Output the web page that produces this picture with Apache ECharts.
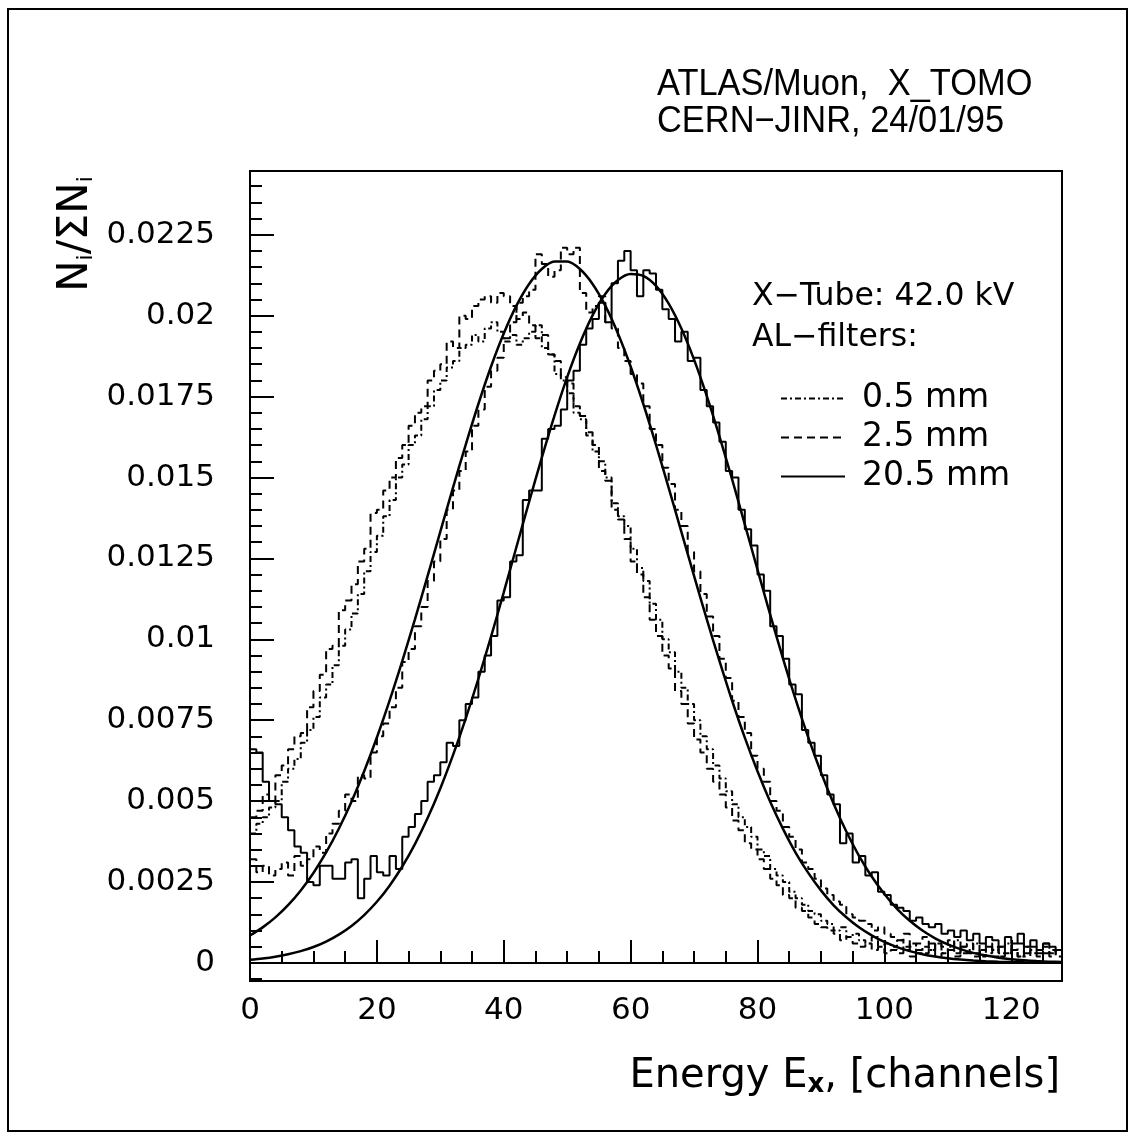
<!DOCTYPE html>
<html><head><meta charset="utf-8">
<script src="https://cdn.jsdelivr.net/npm/echarts@6/dist/echarts.min.js"></script>
<style>html,body{margin:0;padding:0;background:#fff}#c{width:1135px;height:1140px}</style>
</head><body><div id="c"></div>
<script>
// ---- data ----
// histogram contents per channel 0..127
const filter05 = [ // dash-dot, 0.5 mm
0.0040,0.0043,0.0045,0.0048,0.0050,0.0056,0.0060,0.0063,0.0068,0.0072,
0.0076,0.0082,0.0086,0.0092,0.0098,0.0103,0.0108,0.0114,0.0121,0.0127,
0.0132,0.0138,0.0143,0.0150,0.0154,0.0160,0.0163,0.0168,0.0172,0.0177,
0.0180,0.0184,0.0186,0.0190,0.0191,0.0194,0.0192,0.0196,0.0198,0.0195,
0.0192,0.0194,0.0191,0.0193,0.0195,0.0197,0.0190,0.0188,0.0182,0.0180,
0.0176,0.0170,0.0168,0.0163,0.0158,0.0155,0.0150,0.0142,0.0138,0.0135,
0.0128,0.0122,0.0118,0.0111,0.0106,0.0100,0.0096,0.0090,0.0085,0.0080,
0.0075,0.0070,0.0066,0.0061,0.0057,0.0053,0.0049,0.0045,0.0042,0.0039,
0.0035,0.0033,0.0029,0.0027,0.0025,0.0022,0.0020,0.0018,0.0016,0.0015,
0.0013,0.0012,0.0010,0.0011,0.0008,0.0009,0.0007,0.0006,0.0008,0.0005,
0.0006,0.0005,0.0007,0.0004,0.0006,0.0003,0.0005,0.0004,0.0006,0.0003,
0.0005,0.0007,0.0003,0.0004,0.0006,0.0002,0.0005,0.0004,0.0003,0.0006,
0.0004,0.0002,0.0005,0.0003,0.0004,0.0006,0.0003,0.0004];
const filter05b = [ // second low-energy run, dashed
0.0045,0.0047,0.0052,0.0050,0.0058,0.0061,0.0066,0.0070,0.0071,0.0079,
0.0084,0.0089,0.0097,0.0098,0.0109,0.0112,0.0117,0.0124,0.0128,0.0139,
0.0140,0.0146,0.0150,0.0156,0.0160,0.0166,0.0170,0.0172,0.0180,0.0183,
0.0185,0.0192,0.0190,0.0200,0.0199,0.0203,0.0205,0.0206,0.0204,0.0207,
0.0206,0.0203,0.0199,0.0201,0.0197,0.0193,0.0194,0.0188,0.0186,0.0181,
0.0179,0.0172,0.0169,0.0164,0.0160,0.0152,0.0149,0.0140,0.0137,0.0131,
0.0124,0.0120,0.0113,0.0106,0.0101,0.0095,0.0091,0.0084,0.0080,0.0074,
0.0069,0.0065,0.0060,0.0056,0.0052,0.0048,0.0044,0.0041,0.0037,0.0035,
0.0032,0.0029,0.0026,0.0024,0.0021,0.0020,0.0017,0.0016,0.0014,0.0012,
0.0011,0.0010,0.0009,0.0007,0.0008,0.0006,0.0005,0.0006,0.0004,0.0005,
0.0003,0.0004,0.0003,0.0005,0.0002,0.0004,0.0003,0.0006,0.0002,0.0003,
0.0004,0.0002,0.0005,0.0003,0.0002,0.0004,0.0003,0.0005,0.0002,0.0003,
0.0004,0.0002,0.0003,0.0005,0.0002,0.0003,0.0004,0.0002];
const filter25 = [ // dashed, 2.5 mm
0.0032,0.0028,0.0030,0.0027,0.0029,0.0031,0.0027,0.0033,0.0030,0.0032,
0.0036,0.0034,0.0040,0.0043,0.0047,0.0052,0.0050,0.0058,0.0057,0.0065,
0.0070,0.0074,0.0079,0.0085,0.0093,0.0097,0.0104,0.0110,0.0118,0.0124,
0.0131,0.0140,0.0146,0.0152,0.0158,0.0166,0.0171,0.0178,0.0183,0.0187,
0.0193,0.0198,0.0204,0.0206,0.0208,0.0219,0.0216,0.0212,0.0214,0.0221,
0.0219,0.0221,0.0207,0.0201,0.0203,0.0206,0.0198,0.0196,0.0190,0.0186,
0.0182,0.0179,0.0172,0.0165,0.0160,0.0153,0.0148,0.0140,0.0135,0.0127,
0.0121,0.0114,0.0107,0.0101,0.0094,0.0088,0.0081,0.0076,0.0071,0.0064,
0.0060,0.0056,0.0050,0.0047,0.0042,0.0039,0.0035,0.0031,0.0029,0.0026,
0.0023,0.0021,0.0019,0.0018,0.0015,0.0014,0.0013,0.0012,0.0010,0.0011,
0.0009,0.0008,0.0007,0.0009,0.0005,0.0006,0.0008,0.0004,0.0006,0.0005,
0.0007,0.0003,0.0005,0.0006,0.0003,0.0004,0.0006,0.0002,0.0005,0.0003,
0.0004,0.0006,0.0002,0.0004,0.0003,0.0005,0.0002,0.0004];
const filter205 = [ // solid, 20.5 mm
0.0066,0.0065,0.0056,0.0050,0.0049,0.0045,0.0041,0.0036,0.0034,0.0025,
0.0024,0.0030,0.0030,0.0026,0.0026,0.0031,0.0032,0.0020,0.0026,0.0033,
0.0028,0.0027,0.0033,0.0029,0.0039,0.0042,0.0046,0.0050,0.0056,0.0058,
0.0062,0.0068,0.0067,0.0075,0.0080,0.0082,0.0090,0.0095,0.0101,0.0112,
0.0113,0.0124,0.0126,0.0143,0.0146,0.0146,0.0162,0.0165,0.0166,0.0171,
0.0180,0.0183,0.0191,0.0196,0.0199,0.0204,0.0198,0.0210,0.0217,0.0220,
0.0214,0.0206,0.0214,0.0213,0.0208,0.0202,0.0199,0.0192,0.0195,0.0186,
0.0187,0.0177,0.0172,0.0167,0.0161,0.0152,0.0150,0.0140,0.0134,0.0129,
0.0120,0.0115,0.0104,0.0101,0.0094,0.0086,0.0083,0.0072,0.0068,0.0064,
0.0058,0.0052,0.0049,0.0037,0.0040,0.0031,0.0033,0.0027,0.0028,0.0022,
0.0021,0.0018,0.0017,0.0016,0.0013,0.0014,0.0012,0.0011,0.0012,0.0009,
0.0010,0.0008,0.0010,0.0007,0.0009,0.0006,0.0008,0.0007,0.0005,0.0008,
0.0006,0.0009,0.0005,0.0007,0.0004,0.0006,0.0005,0.0004];
// fitted curves, sampled every 2 channels
const fitX = [0,2,4,6,8,10,12,14,16,18,20,22,24,26,28,30,32,34,36,38,40,42,44,46,48,50,52,54,56,58,60,62,64,
  66,68,70,72,74,76,78,80,82,84,86,88,90,92,94,96,98,100,102,104,106,108,110,112,114,116,118,120,122,124,126,128];
const fit25 = [0.000846,0.001097,0.001406,0.001784,0.002239,0.002778,0.003411,0.004145,0.004982,0.005922,
  0.006964,0.008103,0.009325,0.010616,0.011959,0.013324,0.014684,0.01601,0.01727,0.01843,
  0.01945,0.02031,0.02098,0.02144,0.02167,0.02167,0.02144,0.02098,0.02031,0.01945,
  0.01843,0.01727,0.01601,0.01468,0.01332,0.01196,0.01062,0.00933,0.0081,0.00696,
  0.00592,0.00498,0.00415,0.00341,0.00278,0.00224,0.00178,0.00141,0.0011,0.00085,
  0.000646,0.000488,0.000364,0.000269,0.000197,0.000142,0.000102,0.000072,0.00005,0.000035,
  0.000024,0.000016,0.000011,0.000007,0.000005];
const fit205 = [0.0000957,0.000136,0.000191,0.000265,0.000363,0.000492,0.00066,0.000874,0.001143,0.001478,
  0.001888,0.002386,0.002978,0.003672,0.004475,0.00539,0.006418,0.00755,0.00878,0.01008,
  0.01145,0.01285,0.01425,0.01561,0.01691,0.0181,0.01914,0.02001,0.02067,0.0211,
  0.02129,0.02123,0.02092,0.02037,0.0196,0.01864,0.01752,0.01627,0.01494,0.01355,
  0.01215,0.01076,0.00942,0.00815,0.00697,0.00589,0.00492,0.00406,0.00331,0.00267,
  0.00213,0.00167,0.0013,0.001,0.00076,0.00057,0.000424,0.00031,0.000225,0.000161,
  0.000114,0.00008,0.000055,0.000038,0.000025];
// axes
const xMajorTicks = [0,20,40,60,80,100,120];
const xMinorTicks = [0,5,10,15,20,25,30,35,40,45,50,55,60,65,70,75,80,85,90,95,100,105,110,115,120,125];
const yMajorTicks = [0,0.0025,0.005,0.0075,0.01,0.0125,0.015,0.0175,0.02,0.0225];
const yTickLabels = ['0','0.0025','0.005','0.0075','0.01','0.0125','0.015','0.0175','0.02','0.0225'];
const yMinorTicks = [-0.0005,0,0.0005,0.001,0.0015,0.002,0.0025,0.003,0.0035,0.004,0.0045,0.005,0.0055,0.006,0.0065,0.007,0.0075,0.008,0.0085,0.009,0.0095,0.01,0.0105,0.011,0.0115,0.012,0.0125,0.013,0.0135,0.014,0.0145,0.015,0.0155,0.016,0.0165,0.017,0.0175,0.018,0.0185,0.019,0.0195,0.02,0.0205,0.021,0.0215,0.022,0.0225,0.023,0.0235,0.024];
const xRange = [0, 128];
const yRange = [-0.00056, 0.02447];

// ---- chart ----
const FONT = 'DejaVu Sans';
const hist = h => h.map((v, i) => [i, v]).concat([[h.length, h[h.length - 1]]]);
const curve = ys => ys.map((v, i) => [fitX[i], v]);
const black = '#000';
function histSeries(name, h, type, w) {
  return {name, type: 'line', step: 'end', symbol: 'none', showSymbol: false, data: hist(h), clip: true,
    lineStyle: {color: black, width: w, type}, itemStyle: {color: black}, z: 3};
}
function fitSeries(name, ys) {
  return {name, type: 'line', smooth: 0.3, symbol: 'none', data: curve(ys), clip: true,
    lineStyle: {color: black, width: 2.5, type: 'solid'}, itemStyle: {color: black}, z: 4};
}
const chart = echarts.init(document.getElementById('c'), null, {renderer: 'canvas'});
chart.setOption({
  animation: false,
  backgroundColor: '#fff',
  grid: {left: 250, top: 171, right: 73, bottom: 159, show: true, borderColor: black, borderWidth: 2, backgroundColor: 'transparent'},
  xAxis: [
    {type: 'value', min: xRange[0], max: xRange[1], position: 'bottom',
     axisLine: {show: true, lineStyle: {color: black, width: 2}},
     axisTick: {show: true, inside: true, length: 23, customValues: xMajorTicks, lineStyle: {color: black, width: 2}},
     axisLabel: {customValues: xMajorTicks, color: black, fontFamily: FONT, fontSize: 31, margin: 14},
     splitLine: {show: false}},
    {type: 'value', min: xRange[0], max: xRange[1], position: 'bottom',
     axisLine: {show: false},
     axisTick: {show: true, inside: true, length: 12, customValues: xMinorTicks, lineStyle: {color: black, width: 2}},
     axisLabel: {show: false}, splitLine: {show: false}}
  ],
  yAxis: [
    {type: 'value', min: yRange[0], max: yRange[1], position: 'left',
     axisLine: {show: true, lineStyle: {color: black, width: 2}},
     axisTick: {show: true, inside: true, length: 24, customValues: yMajorTicks, lineStyle: {color: black, width: 2}},
     axisLabel: {customValues: yMajorTicks, color: black, fontFamily: FONT, fontSize: 31, margin: 35,
       formatter: v => { const i = yMajorTicks.findIndex(t => Math.abs(t - v) < 1e-9); return i >= 0 ? yTickLabels[i] : ''; }},
     splitLine: {show: false}},
    {type: 'value', min: yRange[0], max: yRange[1], position: 'left',
     axisLine: {show: false},
     axisTick: {show: true, inside: true, length: 12, customValues: yMinorTicks, lineStyle: {color: black, width: 2}},
     axisLabel: {show: false}, splitLine: {show: false}}
  ],
  legend: {
    data: ['0.5 mm', '2.5 mm', '20.5 mm'], orient: 'vertical', left: 775, top: 377,
    itemWidth: 64, itemHeight: 12, itemGap: 6, selectedMode: false,
    itemStyle: {opacity: 0, borderWidth: 0},
    textStyle: {color: black, fontFamily: FONT, fontSize: 33, lineHeight: 32, padding: [0, 0, 0, 12]}
  },
  series: [
    histSeries('0.5 mm', filter05, [6, 3, 2, 3], 2),
    histSeries('0.5 mm run 2', filter05b, [8, 5], 2),
    histSeries('2.5 mm', filter25, [8, 5], 2),
    histSeries('20.5 mm', filter205, 'solid', 2),
    fitSeries('fit 2.5 mm', fit25),
    fitSeries('fit 20.5 mm', fit205)
  ],
  graphic: [
    {type: 'rect', shape: {x: 8, y: 9, width: 1119, height: 1122}, style: {fill: 'none', stroke: black, lineWidth: 2}, silent: true},
    {type: 'text', x: 657, y: 66, scaleX: 0.93, style: {text: 'ATLAS/Muon,  X_TOMO\nCERN\u2212JINR, 24/01/95', fill: black,
      font: '37px "Liberation Sans Narrow", "Liberation Sans", sans-serif', lineHeight: 37, align: 'left', verticalAlign: 'top'}},
    {type: 'text', x: 752, y: 297, style: {text: 'X\u2212Tube: 42.0 kV', fill: black, font: '31.5px "DejaVu Sans"', align: 'left', verticalAlign: 'middle'}},
    {type: 'text', x: 752, y: 338, style: {text: 'AL\u2212filters:', fill: black, font: '31.5px "DejaVu Sans"', align: 'left', verticalAlign: 'middle'}},
    {type: 'text', x: 76, y: 234, rotation: Math.PI / 2, style: {text: 'N{s|i}/\u03A3N{s|i}', fill: black,
      font: '42px "DejaVu Sans"', align: 'center', verticalAlign: 'middle',
      rich: {s: {fontSize: 22, fontFamily: FONT, fill: black, verticalAlign: 'bottom', padding: [18, 0, 0, 0]}}}},
    {type: 'text', x: 1060, y: 1077, style: {text: 'Energy E{s|x}, [channels]', fill: black,
      font: '40px "DejaVu Sans"', align: 'right', verticalAlign: 'middle',
      rich: {s: {fontSize: 26, fontWeight: 'bold', fontFamily: FONT, fill: black, verticalAlign: 'bottom', padding: [16, 0, 0, 0]}}}}
  ]
});
</script></body></html>
